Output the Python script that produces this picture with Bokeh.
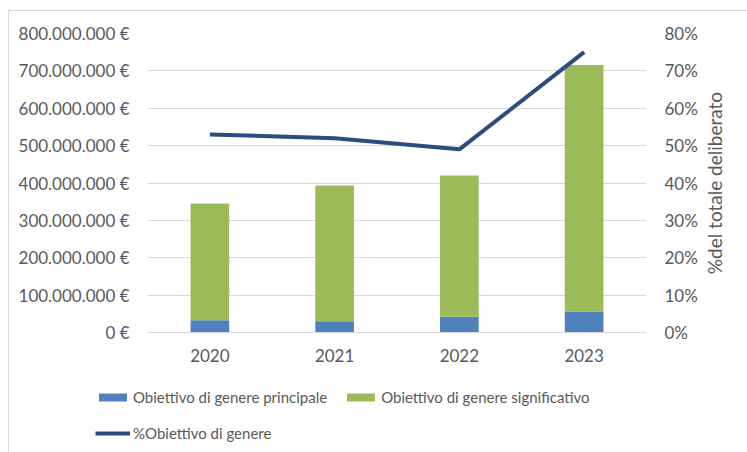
from bokeh.plotting import figure
from bokeh.layouts import column, row
from bokeh.models import (Range1d, LinearAxis, FactorRange, CustomJSTickFormatter,
                          NumeralTickFormatter, FixedTicker, Legend, LegendItem, Title)
from bokeh.embed import file_html
from bokeh.resources import INLINE

years = ["2020", "2021", "2022", "2023"]
principale = [33_000_000, 30_000_000, 42_000_000, 56_000_000]
significativo = [312_000_000, 363_000_000, 378_000_000, 660_000_000]
pct_genere = [0.53, 0.52, 0.49, 0.75]
left_ticks = [0, 100e6, 200e6, 300e6, 400e6, 500e6, 600e6, 700e6, 800e6]
right_ticks = [0, 0.1, 0.2, 0.3, 0.4, 0.5, 0.6, 0.7, 0.8]
series_names = ["Obiettivo di genere principale", "Obiettivo di genere significativo",
                "%Obiettivo di genere"]
right_title = "%del totale deliberato"

FONT = "Lato"
TXT = "#595959"
GRID = "#d9d9d9"
FS = "17px"
C_BLUE, C_GREEN, C_LINE = "#4f81bd", "#9bbb59", "#2b4c7e"

# ---- main chart ----
p = figure(x_range=FactorRange(*years), y_range=Range1d(0, 8e8),
           width=700, height=372,
           min_border_left=147, min_border_right=51, min_border_top=33, min_border_bottom=40,
           output_backend="svg", toolbar_location=None)
p.extra_y_ranges = {"pct": Range1d(0, 0.8)}
p.border_fill_alpha = 0

src = dict(year=years, principale=principale, significativo=significativo)
p.vbar_stack(["principale", "significativo"], x="year", width=0.31,
             color=[C_BLUE, C_GREEN], line_color=None, source=src)
p.line(years, pct_genere, y_range_name="pct", line_color=C_LINE, line_width=4)

p.outline_line_color = None
p.xgrid.grid_line_color = None
p.ygrid.grid_line_color = GRID
p.ygrid.ticker = FixedTicker(ticks=left_ticks)

ya = p.yaxis[0]
ya.ticker = FixedTicker(ticks=left_ticks)
ya.formatter = CustomJSTickFormatter(code="""
return Math.round(tick).toString().replace(/\\B(?=(\\d{3})+(?!\\d))/g, '.') + ' \u20ac';
""")

ra = LinearAxis(y_range_name="pct", ticker=FixedTicker(ticks=right_ticks),
                formatter=NumeralTickFormatter(format="0%"))
p.add_layout(ra, "right")

for ax in [ya, ra]:
    ax.axis_line_color = None
    ax.major_tick_line_color = None
    ax.minor_tick_line_color = None
    ax.major_label_text_font = FONT
    ax.major_label_text_font_size = FS
    ax.major_label_text_color = TXT
ya.major_label_standoff = 12
ra.major_label_standoff = 12

xa = p.xaxis[0]
xa.axis_line_color = GRID
xa.major_tick_line_color = None
xa.minor_tick_line_color = None
xa.major_label_text_font = FONT
xa.major_label_text_font_size = FS
xa.major_label_text_color = TXT
xa.major_label_standoff = 10

# ---- right-hand axis title (reads bottom to top) ----
lab = figure(width=47, height=372, x_range=Range1d(0, 1), y_range=Range1d(0, 1),
             x_axis_type=None, y_axis_type=None,
             min_border_left=0, min_border_right=0, min_border_top=33, min_border_bottom=40,
             output_backend="svg", toolbar_location=None)
lab.outline_line_color = None
lab.border_fill_alpha = 0
lab.background_fill_alpha = 0
lab.grid.visible = False
lab.add_layout(Title(text=right_title, align="center", text_font=FONT, text_font_size="19px",
                     text_color=TXT, text_font_style="normal", standoff=0, offset=0), "left")

# ---- legend strip ----
leg = figure(width=747, height=80, x_range=Range1d(0, 1), y_range=Range1d(0, 1),
             x_axis_type=None, y_axis_type=None, min_border=0,
             output_backend="svg", toolbar_location=None)
leg.outline_line_color = None
leg.border_fill_alpha = 0
leg.background_fill_alpha = 0
leg.grid.visible = False
# legend proxies, placed outside the visible range
g1 = leg.vbar(x=[-5], top=[-5], width=0.1, color=C_BLUE, line_color=None)
g2 = leg.vbar(x=[-5], top=[-5], width=0.1, color=C_GREEN, line_color=None)
g3 = leg.line(x=[-5, -4], y=[-5, -5], line_color=C_LINE, line_width=4)
lg = Legend(items=[LegendItem(label=series_names[0], renderers=[g1]),
                   LegendItem(label=series_names[1], renderers=[g2]),
                   LegendItem(label=series_names[2], renderers=[g3])],
            orientation="horizontal", ncols=2, location=(95, 9),
            border_line_color=None, background_fill_alpha=0,
            padding=0, margin=0, spacing=16, label_standoff=3,
            glyph_width=35, glyph_height=10, label_height=20,
            label_text_font=FONT, label_text_font_size="15px", label_text_color=TXT)
leg.add_layout(lg, "center")

layout = column(row(p, lab, spacing=0), leg, spacing=0)
layout.styles = {
    "background": ("linear-gradient(#d9d9d9, #d9d9d9) 8px 10px / 1px 100% no-repeat, "
                   "linear-gradient(#d9d9d9, #d9d9d9) 8px 10px / 100% 1px no-repeat, #ffffff"),
}
open("out.html", "w").write(file_html(layout, INLINE))
